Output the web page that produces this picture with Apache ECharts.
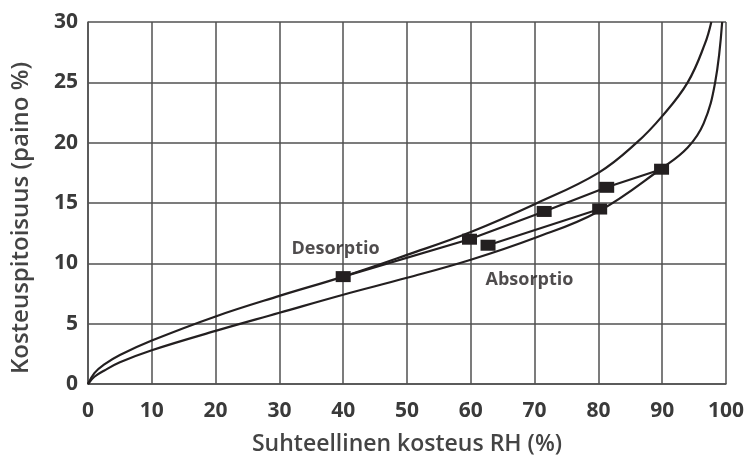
<!DOCTYPE html>
<html>
<head>
<meta charset="utf-8">
<script src="https://cdn.jsdelivr.net/npm/echarts@6/dist/echarts.min.js"></script>
<style>
  html, body { margin: 0; padding: 0; background: #fff; }
  #chart { width: 755px; height: 457px; }
</style>
</head>
<body>
<div id="chart"></div>
<script>
// ulompi desorptiokäyrä (RH %, kosteus %)
const desorptionRH = [0, 1, 2.5, 5, 10, 20, 30, 40, 50, 60, 70, 80, 86, 90, 94, 96.7, 97.7];
const desorptionMC = [0, 0.9, 1.6, 2.4, 3.6, 5.6, 7.3, 8.9, 10.7, 12.6, 14.9, 17.5, 20.0, 22.2, 25.0, 28.2, 30];

// ulompi absorptiokäyrä
const absorptionRH = [0, 1, 2.5, 5, 10, 20, 30, 40, 50, 60, 70, 80, 90, 94, 96.5, 98.3, 99.4];
const absorptionMC = [0, 0.6, 1.1, 1.8, 2.8, 4.4, 5.9, 7.4, 8.8, 10.3, 12.1, 14.3, 17.9, 19.6, 21.6, 25.0, 30];

// mittauspisteet (välikäyrät)
const scanDesRH = [89.9, 81.3, 71.5, 59.8, 40];
const scanDesMC = [17.8, 16.3, 14.3, 12.0, 8.9];
const scanAbsRH = [62.7, 80.2];
const scanAbsMC = [11.5, 14.5];

// tekstit
const labelNames = ['Desorptio', 'Absorptio'];
const labelRH = [38.8, 69.2];
const labelMC = [11.2, 8.6];

const xTicks = [0, 10, 20, 30, 40, 50, 60, 70, 80, 90, 100];
const yTicks = [0, 5, 10, 15, 20, 25, 30];

const zip = (xs, ys) => xs.map((x, i) => [x, ys[i]]);

const ink = '#231f20';
const gridColor = '#505050';

const chart = echarts.init(document.getElementById('chart'));

const option = {
  animation: false,
  grid: { left: 88, right: 29, top: 22, bottom: 73, outerBoundsMode: 'none' },
  xAxis: {
    type: 'value',
    min: xTicks[0],
    max: xTicks[xTicks.length - 1],
    interval: 10,
    name: 'Suhteellinen kosteus RH (%)',
    nameLocation: 'middle',
    nameGap: 49,
    nameTextStyle: { fontFamily: 'Open Sans', fontSize: 23, fontWeight: 600, color: '#444' },
    axisLine: { show: true, lineStyle: { color: gridColor, width: 1.5 } },
    axisTick: { show: false },
    axisLabel: { margin: 17, fontFamily: 'Open Sans', fontSize: 21, fontWeight: 'bold', color: '#3a3a3a' },
    splitLine: { show: true, lineStyle: { color: gridColor, width: 1.5 } },
  },
  yAxis: {
    type: 'value',
    min: yTicks[0],
    max: yTicks[yTicks.length - 1],
    interval: 5,
    name: 'Kosteuspitoisuus (paino %)',
    nameLocation: 'middle',
    nameGap: 55,
    nameTextStyle: {
      fontFamily: 'Open Sans', fontSize: 24, fontWeight: 600, color: '#444',
      padding: [0, 30, 0, 0],
    },
    axisLine: { show: true, lineStyle: { color: gridColor, width: 1.5 } },
    axisTick: { show: false },
    axisLabel: { margin: 10, fontFamily: 'Open Sans', fontSize: 21, fontWeight: 'bold', color: '#3a3a3a' },
    splitLine: { show: true, lineStyle: { color: gridColor, width: 1.5 } },
  },
  series: [
    {
      name: 'Desorptio (ulompi)',
      type: 'line',
      data: zip(desorptionRH, desorptionMC),
      smooth: 0.4,
      symbol: 'none',
      lineStyle: { color: ink, width: 2.2 },
    },
    {
      name: 'Absorptio (ulompi)',
      type: 'line',
      data: zip(absorptionRH, absorptionMC),
      smooth: 0.4,
      symbol: 'none',
      lineStyle: { color: ink, width: 2.2 },
    },
    {
      name: 'Desorptio (mitattu)',
      type: 'line',
      data: zip(scanDesRH, scanDesMC),
      symbol: 'rect',
      symbolSize: [15, 11],
      itemStyle: { color: ink },
      lineStyle: { color: ink, width: 2.2 },
      z: 3,
    },
    {
      name: 'Absorptio (mitattu)',
      type: 'line',
      data: zip(scanAbsRH, scanAbsMC),
      symbol: 'rect',
      symbolSize: [15, 11],
      itemStyle: { color: ink },
      lineStyle: { color: ink, width: 2.2 },
      z: 3,
    },
    {
      name: 'tekstit',
      type: 'scatter',
      symbolSize: 0,
      data: labelNames.map((n, i) => ({ name: n, value: [labelRH[i], labelMC[i]] })),
      label: {
        show: true,
        position: 'inside',
        formatter: (p) => p.name,
        fontFamily: 'Open Sans',
        fontSize: 18,
        fontWeight: 'bold',
        color: ink,
      },
      z: 4,
    },
  ],
};

chart.setOption(option);
</script>
</body>
</html>
